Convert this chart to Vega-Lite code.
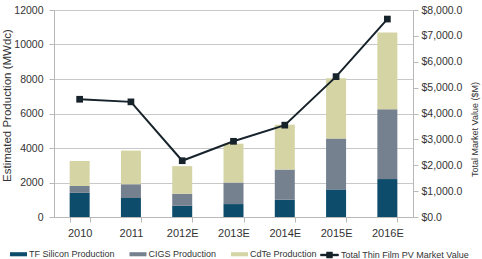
{
  "$schema": "https://vega.github.io/schema/vega-lite/v6.json",
  "width": 359,
  "height": 207,
  "autosize": {"type": "none"},
  "padding": {"left": 54, "top": 10, "right": 69, "bottom": 42},
  "background": "white",
  "config": {
    "view": {"stroke": null},
    "font": "Liberation Sans",
    "axis": {
      "labelFont": "Liberation Sans",
      "titleFont": "Liberation Sans",
      "labelColor": "#333333",
      "titleColor": "#333333",
      "titleFontWeight": "normal",
      "domainColor": "#b8b8b8",
      "tickColor": "#b8b8b8",
      "gridColor": "#c8c8c8",
      "tickSize": 5
    },
    "legend": {
      "labelFont": "Liberation Sans",
      "labelColor": "#333333",
      "labelFontSize": 9,
      "padding": 0
    }
  },
  "datasets": {
    "production": [
      {"year": "2010", "technology": "TF Silicon Production", "rank": 1, "mwdc": 1400},
      {"year": "2010", "technology": "CIGS Production", "rank": 2, "mwdc": 400},
      {"year": "2010", "technology": "CdTe Production", "rank": 3, "mwdc": 1450},
      {"year": "2011", "technology": "TF Silicon Production", "rank": 1, "mwdc": 1100},
      {"year": "2011", "technology": "CIGS Production", "rank": 2, "mwdc": 800},
      {"year": "2011", "technology": "CdTe Production", "rank": 3, "mwdc": 1950},
      {"year": "2012E", "technology": "TF Silicon Production", "rank": 1, "mwdc": 650},
      {"year": "2012E", "technology": "CIGS Production", "rank": 2, "mwdc": 700},
      {"year": "2012E", "technology": "CdTe Production", "rank": 3, "mwdc": 1600},
      {"year": "2013E", "technology": "TF Silicon Production", "rank": 1, "mwdc": 750},
      {"year": "2013E", "technology": "CIGS Production", "rank": 2, "mwdc": 1250},
      {"year": "2013E", "technology": "CdTe Production", "rank": 3, "mwdc": 2250},
      {"year": "2014E", "technology": "TF Silicon Production", "rank": 1, "mwdc": 1000},
      {"year": "2014E", "technology": "CIGS Production", "rank": 2, "mwdc": 1750},
      {"year": "2014E", "technology": "CdTe Production", "rank": 3, "mwdc": 2600},
      {"year": "2015E", "technology": "TF Silicon Production", "rank": 1, "mwdc": 1600},
      {"year": "2015E", "technology": "CIGS Production", "rank": 2, "mwdc": 2950},
      {"year": "2015E", "technology": "CdTe Production", "rank": 3, "mwdc": 3500},
      {"year": "2016E", "technology": "TF Silicon Production", "rank": 1, "mwdc": 2200},
      {"year": "2016E", "technology": "CIGS Production", "rank": 2, "mwdc": 4050},
      {"year": "2016E", "technology": "CdTe Production", "rank": 3, "mwdc": 4450}
    ],
    "marketValue": [
      {"year": "2010", "value": 4550},
      {"year": "2011", "value": 4450},
      {"year": "2012E", "value": 2175},
      {"year": "2013E", "value": 2925},
      {"year": "2014E", "value": 3550},
      {"year": "2015E", "value": 5425},
      {"year": "2016E", "value": 7650}
    ]
  },
  "encoding": {
    "x": {
      "field": "year",
      "type": "ordinal",
      "sort": ["2010", "2011", "2012E", "2013E", "2014E", "2015E", "2016E"],
      "scale": {"paddingInner": 0.61, "paddingOuter": 0.305},
      "axis": {
        "title": null,
        "labelAngle": 0,
        "labelFontSize": 11,
        "labelPadding": 5,
        "tickBand": "extent",
        "grid": false
      }
    }
  },
  "layer": [
    {
      "data": {"name": "production"},
      "mark": {"type": "bar"},
      "encoding": {
        "y": {
          "field": "mwdc",
          "type": "quantitative",
          "stack": "zero",
          "scale": {"domain": [0, 12000], "nice": false},
          "axis": {
            "orient": "left",
            "values": [0, 2000, 4000, 6000, 8000, 10000, 12000],
            "format": "d",
            "labelFontSize": 10.5,
            "labelPadding": 6,
            "grid": true,
            "title": "Estimated Production (MWdc)",
            "titleFontSize": 11.5,
            "titleAngle": -90,
            "titleAlign": "center",
            "titleBaseline": "middle",
            "titleX": -47,
            "titleY": 95
          }
        },
        "color": {
          "field": "technology",
          "type": "nominal",
          "scale": {
            "domain": ["TF Silicon Production", "CIGS Production", "CdTe Production"],
            "range": ["#0e4c6b", "#76818f", "#d5d4a4"]
          },
          "legend": {
            "title": null,
            "orient": "none",
            "direction": "horizontal",
            "legendX": -44,
            "legendY": 235.5,
            "symbolType": "M-1,-0.24H1V0.24H-1Z",
            "symbolSize": 289,
            "symbolStrokeWidth": 0,
            "symbolOpacity": 1,
            "labelOffset": 2,
            "columnPadding": 14.5
          }
        },
        "order": {"field": "rank", "type": "quantitative"}
      }
    },
    {
      "data": {"name": "marketValue"},
      "encoding": {
        "y": {
          "field": "value",
          "type": "quantitative",
          "scale": {"domain": [0, 8000], "nice": false},
          "axis": {
            "orient": "right",
            "values": [0, 1000, 2000, 3000, 4000, 5000, 6000, 7000, 8000],
            "format": "$,.1f",
            "labelFontSize": 10.5,
            "labelPadding": 3,
            "grid": false,
            "title": "Total Market Value ($M)",
            "titleFontSize": 9,
            "titleAngle": -90,
            "titleAlign": "center",
            "titleBaseline": "middle",
            "titleX": 61,
            "titleY": 119
          }
        }
      },
      "layer": [
        {
          "mark": {"type": "line", "strokeWidth": 2},
          "encoding": {
            "stroke": {
              "datum": "Total Thin Film PV Market Value",
              "type": "nominal",
              "scale": {"range": ["#17232b"]},
              "legend": {
                "title": null,
                "orient": "none",
                "legendX": 266,
                "legendY": 235.5,
                "symbolType": "M-1,-0.1H1V0.1H-1Z M-0.33,-0.33H0.33V0.33H-0.33Z",
                "symbolSize": 324,
                "labelOffset": 2,
                "encode": {
                  "symbols": {
                    "update": {
                      "fill": {"value": "#17232b"},
                      "stroke": {"value": "#17232b"},
                      "strokeWidth": {"value": 0.5},
                      "opacity": {"value": 1}
                    }
                  }
                }
              }
            }
          }
        },
        {
          "mark": {"type": "point", "shape": "square", "size": 45, "filled": true, "color": "#17232b", "opacity": 1},
          "encoding": {}
        }
      ]
    }
  ],
  "resolve": {"scale": {"y": "independent"}}
}
